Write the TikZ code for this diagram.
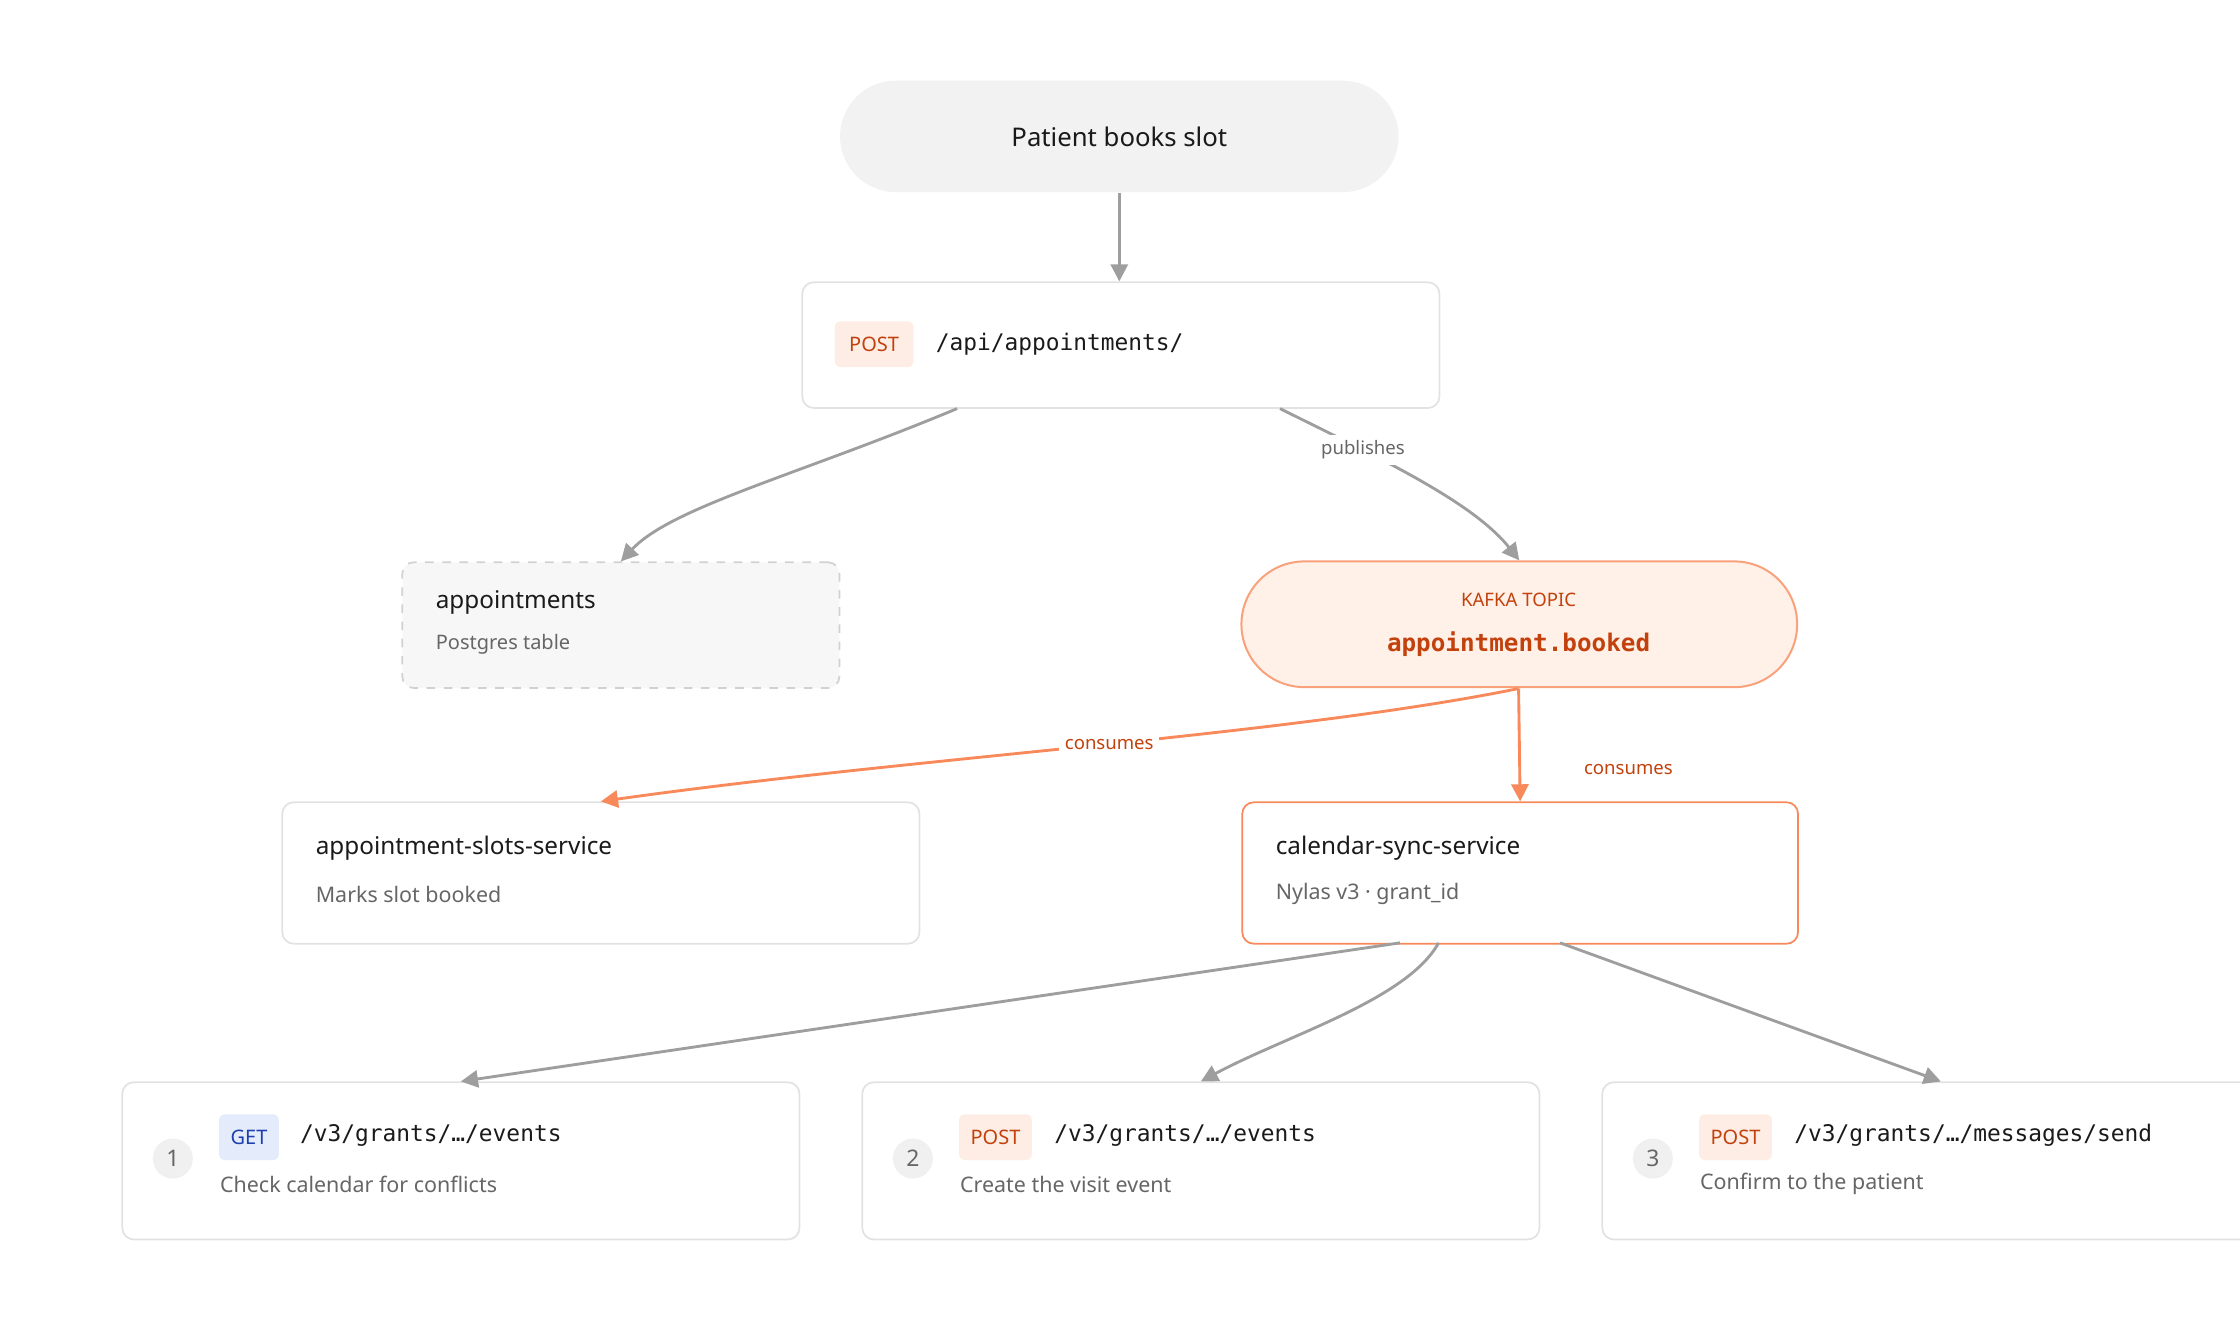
\documentclass[tikz,border=0pt]{standalone}
\usepackage{fontspec}
\setmainfont{Noto Sans}
\newfontfamily\monof{DejaVu Sans Mono}
\usetikzlibrary{arrows.meta}
\definecolor{gline}{HTML}{9E9E9E}
\definecolor{bord}{HTML}{E2E2E2}
\definecolor{ora}{HTML}{C2410C}
\definecolor{orl}{HTML}{F7895A}
\definecolor{orfill}{HTML}{FFF0E8}
\definecolor{badgeo}{HTML}{FDEDE5}
\definecolor{badgeb}{HTML}{E4ECFB}
\definecolor{blu}{HTML}{1E40AF}
\definecolor{txt}{HTML}{1A1A1A}
\definecolor{sub}{HTML}{666666}
\begin{document}
\begin{tikzpicture}[x=0.5pt,y=-0.5pt,
 box/.style={draw=bord,line width=0.6pt,rounded corners=4pt,fill=white,anchor=north west,inner sep=0pt},
 arr/.style={draw=gline,line width=1pt,-{Triangle[length=6pt,width=6pt]}},
 oarr/.style={draw=orl,line width=1pt,-{Triangle[length=6pt,width=6pt]}},
 ttl/.style={anchor=west,font=\fontsize{8.5}{10}\selectfont\bfseries,text=txt},
 subt/.style={anchor=west,font=\fontsize{7.5}{9}\selectfont,text=sub},
 mono/.style={anchor=west,font=\monof\fontsize{8}{10}\selectfont,text=txt},
 badge/.style={anchor=west,rounded corners=2pt,inner xsep=4pt,minimum height=16pt,font=\fontsize{7}{8}\selectfont\bfseries},
 num/.style={circle,fill=black!6,minimum size=14pt,inner sep=0pt,font=\fontsize{8}{9}\selectfont,text=sub},
 lbl/.style={fill=white,inner sep=2pt,font=\fontsize{6.5}{8}\selectfont\bfseries}]
\useasboundingbox (0,0) rectangle (1568,924);
% top pill
\node[fill=black!5,rounded corners=19.5pt,minimum width=195.5pt,minimum height=39pt,font=\fontsize{9}{11}\selectfont,text=txt] (top) at (783.5,95.5) {Patient books slot};
% POST box
\node[box,minimum width=223pt,minimum height=44pt] (post) at (561,197) {};
\node[badge,fill=badgeo,text=ora,minimum width=27.5pt] (pb) at (584,241) {POST};
\node[mono] (pt) at (648,241) {/api/appointments/};
% appointments
\node[box,draw=black!18,dashed,fill=black!3,minimum width=153pt,minimum height=44pt] (appt) at (281,393) {};
\node[ttl,font=\fontsize{8.5}{10}\selectfont] (at) at (298,422) {appointments};
\node[subt,font=\fontsize{7}{9}\selectfont] (as) at (298,451) {Postgres table};
% kafka
\node[draw=orl!80,fill=orfill,line width=0.7pt,rounded corners=22pt,minimum width=194.5pt,minimum height=44pt] (kafka) at (1063.5,437) {};
\node[font=\fontsize{6.5}{8}\selectfont\bfseries,text=ora] (kt) at (1063,420) {KAFKA TOPIC};
\node[font=\monof\fontsize{8.5}{10}\selectfont\bfseries,text=ora] (kn) at (1063,451) {appointment.booked};
% services
\node[box,minimum width=223pt,minimum height=49.5pt] (slots) at (197,561) {};
\node[ttl] (st) at (214,594) {appointment-slots-service};
\node[subt] (ss) at (214,626) {Marks slot booked};
\node[box,draw=orl,minimum width=194.5pt,minimum height=49.5pt] (cal) at (869,561) {};
\node[ttl] (ct) at (886,594) {calendar-sync-service};
\node[subt] (cs) at (886,626) {Nylas v3 · grant\_id};
% bottom boxes
\node[box,minimum width=237pt,minimum height=55pt] (b1) at (85,757) {};
\node[num] (n1) at (121,811) {1};
\node[badge,fill=badgeb,text=blu] (g1) at (153,796) {GET};
\node[mono] (m1) at (203,795) {/v3/grants/…/events};
\node[subt] (d1) at (147,829) {Check calendar for conflicts};
\node[box,minimum width=237pt,minimum height=55pt] (b2) at (603,757) {};
\node[num] (n2) at (639,811) {2};
\node[badge,fill=badgeo,text=ora] (g2) at (671,796) {POST};
\node[mono] (m2) at (731,795) {/v3/grants/…/events};
\node[subt] (d2) at (665,829) {Create the visit event};
\node[box,minimum width=237pt,minimum height=55pt] (b3) at (1121,757) {};
\node[num] (n3) at (1157,811) {3};
\node[badge,fill=badgeo,text=ora] (g3) at (1189,796) {POST};
\node[mono] (m3) at (1249,795) {/v3/grants/…/messages/send};
\node[subt] (d3) at (1183,829) {Confirm to the patient};
% coordinates
\coordinate (p1) at (670,286); \coordinate (p2) at (896,286);
\coordinate (k1) at (1063,482);
\coordinate (c1) at (980,660); \coordinate (c2) at (1007,660); \coordinate (c3) at (1092,660);
% connectors
\draw[arr] (top.south) -- (post.north -| top.south);
\draw[arr] (p1) .. controls (560,332) and (470,355) .. (appt.north);
\draw[arr] (p2) .. controls (960,318) and (1030,350) .. (kafka.north) node[pos=0.3,lbl,text=sub] {publishes};
\draw[oarr] (k1) .. controls (900,515) and (640,530) .. (slots.north) node[pos=0.48,lbl,text=ora] {consumes};
\draw[oarr] (k1) -- (cal.north) node[pos=0.72,right=20pt,lbl,text=ora] {consumes};
\draw[arr] (c1) -- (b1.north);
\draw[arr] (c2) .. controls (985,700) and (900,725) .. (b2.north);
\draw[arr] (c3) -- (b3.north);
\end{tikzpicture}
\end{document}
